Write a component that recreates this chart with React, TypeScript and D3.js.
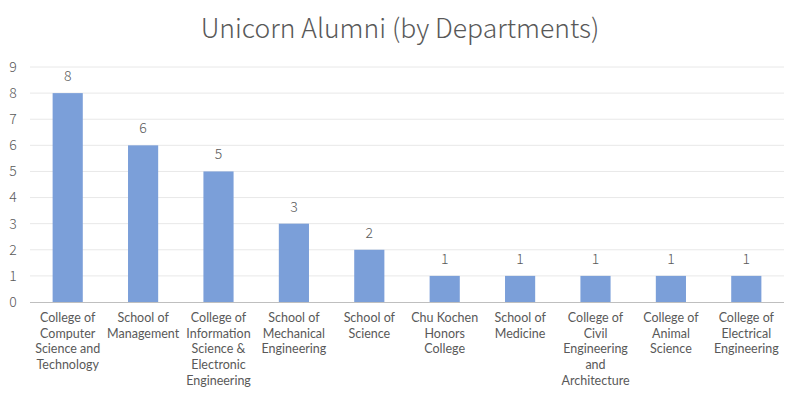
import React, { useEffect, useRef } from "react";
import * as d3 from "d3";

const departments = [
  "College of\nComputer\nScience and\nTechnology",
  "School of\nManagement",
  "College of\nInformation\nScience &\nElectronic\nEngineering",
  "School of\nMechanical\nEngineering",
  "School of\nScience",
  "Chu Kochen\nHonors\nCollege",
  "School of\nMedicine",
  "College of\nCivil\nEngineering\nand\nArchitecture",
  "College of\nAnimal\nScience",
  "College of\nElectrical\nEngineering",
];
const alumni = [8, 6, 5, 3, 2, 1, 1, 1, 1, 1];
const yTicks = [0, 1, 2, 3, 4, 5, 6, 7, 8, 9];
const title = "Unicorn Alumni (by Departments)";

const W = 799;
const H = 397;
const FONT = "'Noto Sans CJK SC', 'Noto Sans', sans-serif";
const LABEL_FONT = "Lato, 'Noto Sans', sans-serif";

export default function App() {
  const ref = useRef<SVGSVGElement>(null);

  useEffect(() => {
    const svg = d3.select(ref.current);
    svg.selectAll("*").remove();

    const left = 30, right = 784, top = 67, bottom = 302;

    const x = d3.scaleBand().domain(departments).range([left, right]).paddingInner(0.6).paddingOuter(0.3);
    const y = d3.scaleLinear().domain([0, 9]).range([bottom, top]);

    svg.append("rect").attr("width", W).attr("height", H).attr("fill", "#fff");

    svg.append("text")
      .attr("x", 400)
      .attr("y", 38)
      .attr("text-anchor", "middle")
      .attr("font-family", FONT)
      .attr("font-weight", 300)
      .attr("font-size", 26.5)
      .attr("fill", "#595959")
      .text(title);

    // gridlines
    svg.append("g")
      .selectAll("line")
      .data(yTicks.filter(d => d > 0))
      .enter().append("line")
      .attr("x1", left).attr("x2", right)
      .attr("y1", d => y(d)).attr("y2", d => y(d))
      .attr("stroke", "#e8e8e8")
      .attr("stroke-width", 1);

    // y tick labels
    svg.append("g")
      .selectAll("text")
      .data(yTicks)
      .enter().append("text")
      .attr("x", 13)
      .attr("y", d => y(d))
      .attr("dy", "0.35em")
      .attr("text-anchor", "middle")
      .attr("font-family", FONT)
      .attr("font-weight", 300)
      .attr("font-size", 14)
      .attr("fill", "#595959")
      .text(d => d);

    // bars
    svg.append("g")
      .selectAll("rect")
      .data(alumni)
      .enter().append("rect")
      .attr("x", (d, i) => x(departments[i])!)
      .attr("y", d => y(d))
      .attr("width", x.bandwidth())
      .attr("height", d => bottom - y(d))
      .attr("fill", "#7b9fd9");

    // value labels
    svg.append("g")
      .selectAll("text")
      .data(alumni)
      .enter().append("text")
      .attr("x", (d, i) => x(departments[i])! + x.bandwidth() / 2)
      .attr("y", d => y(d) - 12)
      .attr("text-anchor", "middle")
      .attr("font-family", FONT)
      .attr("font-weight", 300)
      .attr("font-size", 14)
      .attr("fill", "#595959")
      .text(d => d);

    // x axis line
    svg.append("line")
      .attr("x1", left).attr("x2", right)
      .attr("y1", bottom + 0.5).attr("y2", bottom + 0.5)
      .attr("stroke", "#bfbfbf")
      .attr("stroke-width", 1);

    // category labels, one text per line
    const cats = svg.append("g")
      .selectAll("g")
      .data(departments)
      .enter().append("g")
      .attr("transform", d => `translate(${x(d)! + x.bandwidth() / 2},0)`);
    cats.each(function (d) {
      const g = d3.select(this);
      d.split("\n").forEach((line, i) => {
        g.append("text")
          .attr("x", 0)
          .attr("y", 322 + i * 15.7)
          .attr("text-anchor", "middle")
          .attr("font-family", LABEL_FONT)
          .attr("font-size", 12.5)
          .attr("fill", "#595959")
          .text(line);
      });
    });
  }, []);

  return (
    <svg ref={ref} width={W} height={H} style={{ position: "absolute", left: 0, top: 0 }} />
  );
}
